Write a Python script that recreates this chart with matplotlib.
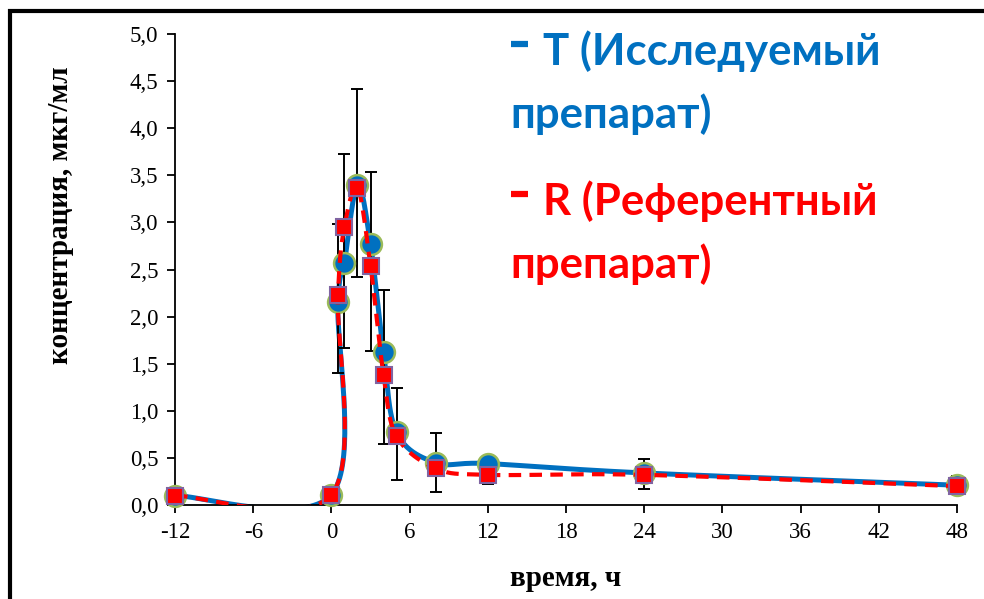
import numpy as np
import matplotlib
matplotlib.use("Agg")
from matplotlib import pyplot as plt
from matplotlib.lines import Line2D
from matplotlib.ticker import FuncFormatter

# Data (time in hours, concentration in mcg/ml)
time_h = [-12, 0, 0.5, 1, 2, 3, 4, 5, 8, 12, 24, 48]
conc_T = [0.10, 0.11, 2.15, 2.57, 3.40, 2.77, 1.62, 0.77, 0.45, 0.44, 0.34, 0.21]
conc_R = [0.10, 0.11, 2.23, 2.95, 3.37, 2.54, 1.38, 0.73, 0.39, 0.32, 0.32, 0.20]
err_time = [0.5, 1, 2, 3, 4, 5, 8, 12, 24, 48]
err_low = [1.40, 1.67, 2.42, 1.63, 0.65, 0.27, 0.14, 0.22, 0.17, 0.13]
err_high = [2.98, 3.73, 4.42, 3.53, 2.28, 1.24, 0.76, 0.48, 0.49, 0.31]

label_T = "T (Исследуемый"
label_R = "R (Референтный"
label_2 = "препарат)"

blue = "#0070C0"
red = "#FF0000"


def excel_smooth(x, y, n=40):
    # bezier smoothing like Excel's "smoothed line"
    pts = np.column_stack([x, y]).astype(float)
    out = [pts[0]]
    t = np.linspace(0, 1, n)[1:, None]
    for i in range(len(pts) - 1):
        p0 = pts[max(i - 1, 0)]
        p1 = pts[i]
        p2 = pts[i + 1]
        p3 = pts[min(i + 2, len(pts) - 1)]
        c1 = p1 + (p2 - p0) / 6
        c2 = p2 - (p3 - p1) / 6
        seg = (1 - t) ** 3 * p1 + 3 * (1 - t) ** 2 * t * c1 + 3 * (1 - t) * t ** 2 * c2 + t ** 3 * p2
        out.extend(seg)
    return np.array(out)


plt.rcParams['font.family'] = ['Liberation Serif', 'DejaVu Serif']
plt.rcParams['axes.unicode_minus'] = False

fig = plt.figure(figsize=(9.84, 5.99), dpi=100)
ax = fig.add_axes([175 / 984, 94 / 599, 782 / 984, 471 / 599])

# smoothed lines
sT = excel_smooth(time_h, conc_T)
sR = excel_smooth(time_h, conc_R)
ax.plot(sT[:, 0], sT[:, 1], color=blue, lw=3.6, zorder=2, solid_capstyle='round')

# error bars
mid = [(a + b) / 2 for a, b in zip(err_low, err_high)]
yerr = [[m - a for m, a in zip(mid, err_low)], [b - m for m, b in zip(mid, err_high)]]
ax.errorbar(err_time, mid, yerr=yerr, fmt='none', ecolor='black', elinewidth=1.4,
            capsize=4, capthick=1.4, zorder=3)

ax.plot(time_h, conc_T, 'o', ms=15, mfc=blue, mec='#9BBB59', mew=1.8, zorder=4, clip_on=False)
ax.plot(sR[:, 0], sR[:, 1], color=red, lw=3.0, dashes=(3, 2), zorder=5)
ax.plot(time_h, conc_R, 's', ms=11.5, mfc=red, mec='#8064A2', mew=1.5, zorder=6, clip_on=False)

ax.set_xlim(-12, 48)
ax.set_ylim(0, 5)
ax.set_xticks(np.arange(-12, 49, 6))
ax.set_yticks(np.arange(0, 5.01, 0.5))
ax.yaxis.set_major_formatter(FuncFormatter(lambda v, p: f"{v:.1f}".replace('.', ',')))
ax.spines['top'].set_visible(False)
ax.spines['right'].set_visible(False)
for s in ['left', 'bottom']:
    ax.spines[s].set_linewidth(1.3)
ax.tick_params(direction='out', length=6, width=1.3, labelsize=16.5, pad=6)

ax.set_xlabel("время, ч", fontsize=21, fontweight='bold', va='center')
ax.xaxis.set_label_coords(0.5, -0.155)
ax.set_ylabel("концентрация, мкг/мл", fontsize=21, fontweight='bold', va='center')
ax.yaxis.set_label_coords(-0.146, 0.616)

# legend as text
H = 599
lfont = dict(fontsize=31.5, fontweight='bold', family=['Lato', 'DejaVu Sans'], va='baseline')
fig.text(543 / 984, 1 - 65 / H, label_T, color=blue, **lfont)
fig.text(510 / 984, 1 - 128 / H, label_2, color=blue, **lfont)
fig.text(543 / 984, 1 - 215 / H, label_R, color=red, **lfont)
fig.text(510 / 984, 1 - 278 / H, label_2, color=red, **lfont)
fig.add_artist(Line2D([511 / 984, 528 / 984], [1 - 44 / H, 1 - 44 / H], color=blue, lw=4.5,
                      solid_capstyle='butt', transform=fig.transFigure))
fig.add_artist(Line2D([511 / 984, 528 / 984], [1 - 194 / H, 1 - 194 / H], color=red, lw=4.5,
                      solid_capstyle='butt', transform=fig.transFigure))

# border of the picture
fig.add_artist(Line2D([8 / 984, 1], [1 - 10.5 / H, 1 - 10.5 / H], color='black', lw=3,
                      solid_capstyle='butt', transform=fig.transFigure))
fig.add_artist(Line2D([10 / 984, 10 / 984], [0, 1 - 9 / H], color='black', lw=3,
                      solid_capstyle='butt', transform=fig.transFigure))

fig.savefig("out.png", dpi=100)
